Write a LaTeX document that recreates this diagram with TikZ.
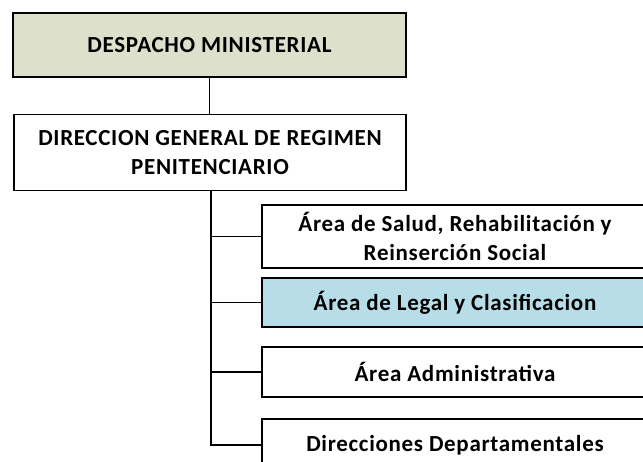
\documentclass[tikz,border=0pt]{standalone}
\usepackage{fontspec}
\setmainfont[LetterSpace=3]{Carlito}
\definecolor{topfill}{HTML}{DDE1CB}
\definecolor{bluefill}{HTML}{B7DDE8}
\begin{document}
\begin{tikzpicture}[x=1pt,y=-1pt,
  orgbox/.style={draw=black,line width=1.5pt,fill=white,align=center,
    font=\bfseries\fontsize{23}{29.5}\selectfont,inner sep=0pt},
  conn/.style={draw=black,line width=1.5pt}]
\useasboundingbox (0,0) rectangle (643,461);
\clip (0,0) rectangle (643,461);
\node[orgbox,fill=topfill,minimum width=393pt,minimum height=64pt] (dm) at (209.5,45) {DESPACHO MINISTERIAL};
\node[orgbox,minimum width=392pt,minimum height=76pt] (dg) at (210,152.5) {DIRECCION GENERAL DE REGIMEN\\PENITENCIARIO};
\node[orgbox,minimum width=386pt,minimum height=63pt] (a1) at (455,236.5) {Área de Salud, Rehabilitación y\\Reinserción Social};
\node[orgbox,fill=bluefill,minimum width=386pt,minimum height=49pt] (a2) at (455,302.5) {Área de Legal y Clasificacion};
\node[orgbox,minimum width=386pt,minimum height=50pt] (a3) at (455,372) {Área Administrativa};
\node[orgbox,minimum width=386pt,minimum height=52pt] (a4) at (455,445) {Direcciones Departamentales};
\coordinate (t0) at (211,190);
\coordinate (t4) at (211,445);
\draw[conn] (dm.south) -- (dm.south |- dg.north);
\draw[conn] (t0) -- (t4) -- (a4.west);
\draw[conn] (t0 |- a1.west) -- (a1.west);
\draw[conn] (t0 |- a2.west) -- (a2.west);
\draw[conn] (t0 |- a3.west) -- (a3.west);
\end{tikzpicture}
\end{document}
